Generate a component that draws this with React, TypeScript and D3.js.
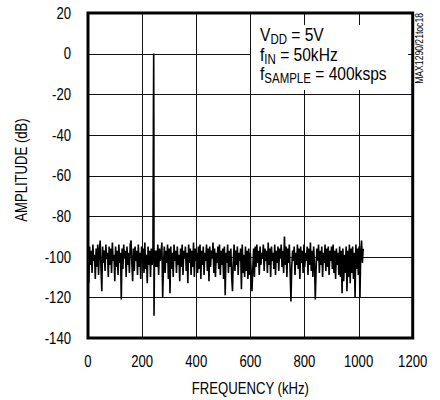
import React from "react";
import * as d3 from "d3";

// Noise-floor FFT bins, one every 3 kHz starting at 0 kHz;
// null where the tone bins below take over.
const FREQ_STEP_KHZ = 3;
const amplitudeDb: (number | null)[] = [
  -98, -113, -95, -104, -97, -108, -94, -102, -99, -111, -96, -105, -94, -109, -97, -92, -106, -117, -95, -103,
  -97, -107, -94, -101, -98, -110, -95, -104, -96, -108, -93, -102, -99, -112, -95, -105, -97, -109, -94, -103,
  -98, -121, -96, -106, -94, -101, -97, -110, -95, -104, -98, -108, -94, -92, -103, -112, -96, -107, -95, -102,
  -97, -109, -94, -105, -98, -111, -95, -103, -96, -108, -93, -106, -99, -113, -95, -104, -97, -110, -96, -104,
  -99, null, -97, -105, -97, -105, -94, -109, -96, -102, -98, -93, -120, -104, -95, -108, -97, -103, -94, -111,
  -96, -118, -95, -106, -98, -110, -94, -102, -97, -108, -95, -104, -99, -112, -96, -105, -94, -109, -97, -101,
  -95, -107, -98, -113, -94, -103, -96, -109, -97, -105, -93, -110, -96, -102, -98, -108, -95, -106, -94, -111,
  -97, -104, -95, -109, -98, -102, -94, -107, -96, -112, -95, -105, -97, -101, -93, -108, -96, -110, -98, -103,
  -95, -106, -94, -109, -97, -104, -96, -111, -95, -119, -98, -103, -94, -108, -97, -105, -96, -110, -117, -102,
  -94, -107, -97, -104, -95, -109, -98, -102, -96, -116, -94, -108, -99, -110, -95, -107, -97, -111, -96, -109,
  -98, -108, -117, -106, -96, -110, -95, -105, -94, -103, -97, -109, -95, -104, -98, -101, -94, -107, -96, -102,
  -97, -108, -93, -104, -96, -110, -95, -102, -98, -106, -94, -109, -97, -103, -95, -107, -96, -101, -94, -105,
  -97, -108, -90, -104, -95, -110, -96, -103, -94, -107, -122, -105, -97, -102, -95, -109, -98, -104, -94, -106,
  -96, -111, -95, -103, -97, -108, -94, -105, -98, -102, -95, -109, -96, -104, -93, -107, -97, -110, -95, -103,
  -121, -106, -96, -102, -94, -108, -97, -104, -95, -110, -98, -103, -94, -107, -96, -105, -95, -109, -97, -102,
  -95, -106, -94, -108, -97, -111, -96, -104, -98, -109, -95, -110, -97, -118, -96, -112, -99, -108, -95, -117,
  -97, -110, -94, -113, -96, -108, -95, -111, -98, -120, -94, -106, -96, -109, -95, -120, -97, -92, -103, -96,
];

// Input tone bins (kHz, dB)
const toneFreqKhz = [241.6, 241.9, 242.2, 242.8, 243.4, 244.0];
const toneDb = [-37, -21, -20, 0, -36, -129];

const xTicks = [0, 200, 400, 600, 800, 1000, 1200];
const yTicks = [20, 0, -20, -40, -60, -80, -100, -120, -140];

const W = 440;
const H = 400;
const FONT = "'Liberation Sans', Arial, Helvetica, sans-serif";
const NARROW = 0.82;

type TProps = {
  x: number;
  y: number;
  size: number;
  anchor?: "start" | "middle" | "end";
  rotate?: number;
  dy?: string;
  children: React.ReactNode;
};

function T({ x, y, size, anchor = "start", rotate = 0, dy, children }: TProps) {
  return (
    <g transform={`translate(${x},${y}) rotate(${rotate}) scale(${NARROW},1)`}>
      <text x={0} y={0} dy={dy} fontSize={size} textAnchor={anchor} fill="#000">
        {children}
      </text>
    </g>
  );
}

export default function App() {
  const left = 88, right = 412.7, top = 13, bottom = 338;
  const x = d3.scaleLinear().domain([0, 1200]).range([left, right]);
  const y = d3.scaleLinear().domain([-140, 20]).range([bottom, top]);

  const noisePts: [number, number][] = [];
  amplitudeDb.forEach((v, i) => {
    if (v !== null) noisePts.push([i * FREQ_STEP_KHZ, v]);
  });
  const tonePts: [number, number][] = toneFreqKhz.map((f, i) => [f, toneDb[i]]);
  const pts = noisePts.concat(tonePts).sort((a, b) => a[0] - b[0]);

  const line = d3
    .line<[number, number]>()
    .x((d) => x(d[0]))
    .y((d) => y(d[1]));

  const crisp = (v: number) => Math.round(v) + 0.5;

  return (
    <svg
      width={W}
      height={H}
      style={{ position: "absolute", left: 0, top: 0, background: "#fff" }}
      fontFamily={FONT}
    >
      <rect x={0} y={0} width={W} height={H} fill="#fff" />
      {/* grid */}
      {yTicks.map((t) => (
        <line key={"gy" + t} x1={left} x2={right} y1={crisp(y(t))} y2={crisp(y(t))} stroke="#111" strokeWidth={1} />
      ))}
      {xTicks.map((t) => (
        <line key={"gx" + t} x1={crisp(x(t))} x2={crisp(x(t))} y1={top} y2={bottom} stroke="#111" strokeWidth={1} />
      ))}
      {/* annotation background */}
      <rect x={251} y={25} width={157} height={65} fill="#fff" />
      {/* trace */}
      <path d={line(pts) || ""} fill="none" stroke="#000" strokeWidth={1.6} strokeLinejoin="miter" strokeMiterlimit={2} />
      {/* frame */}
      <rect x={left} y={top} width={right - left} height={bottom - top} fill="none" stroke="#000" strokeWidth={3} />
      {/* y tick labels */}
      {yTicks.map((t) => (
        <T key={"ty" + t} x={71} y={y(t)} dy="0.36em" anchor="end" size={16}>
          {t}
        </T>
      ))}
      {/* x tick labels */}
      {xTicks.map((t) => (
        <T key={"tx" + t} x={x(t)} y={367} anchor="middle" size={16}>
          {t}
        </T>
      ))}
      <T x={(left + right) / 2} y={394} anchor="middle" size={16}>
        FREQUENCY (kHz)
      </T>
      <T x={26.5} y={170} rotate={-90} anchor="middle" size={16}>
        AMPLITUDE (dB)
      </T>
      {/* annotation */}
      <T x={260} y={41} size={19}>
        V<tspan fontSize={14} dy={3}>DD</tspan>
        <tspan dy={-3}> = 5V</tspan>
      </T>
      <T x={260} y={61} size={19}>
        f<tspan fontSize={14} dy={3}>IN</tspan>
        <tspan dy={-3}> = 50kHz</tspan>
      </T>
      <T x={260} y={80} size={19}>
        f<tspan fontSize={14} dy={3}>SAMPLE</tspan>
        <tspan dy={-3}> = 400ksps</tspan>
      </T>
      <T x={423} y={13} rotate={-90} anchor="end" size={10.5}>
        MAX1290/21toc18
      </T>
    </svg>
  );
}
